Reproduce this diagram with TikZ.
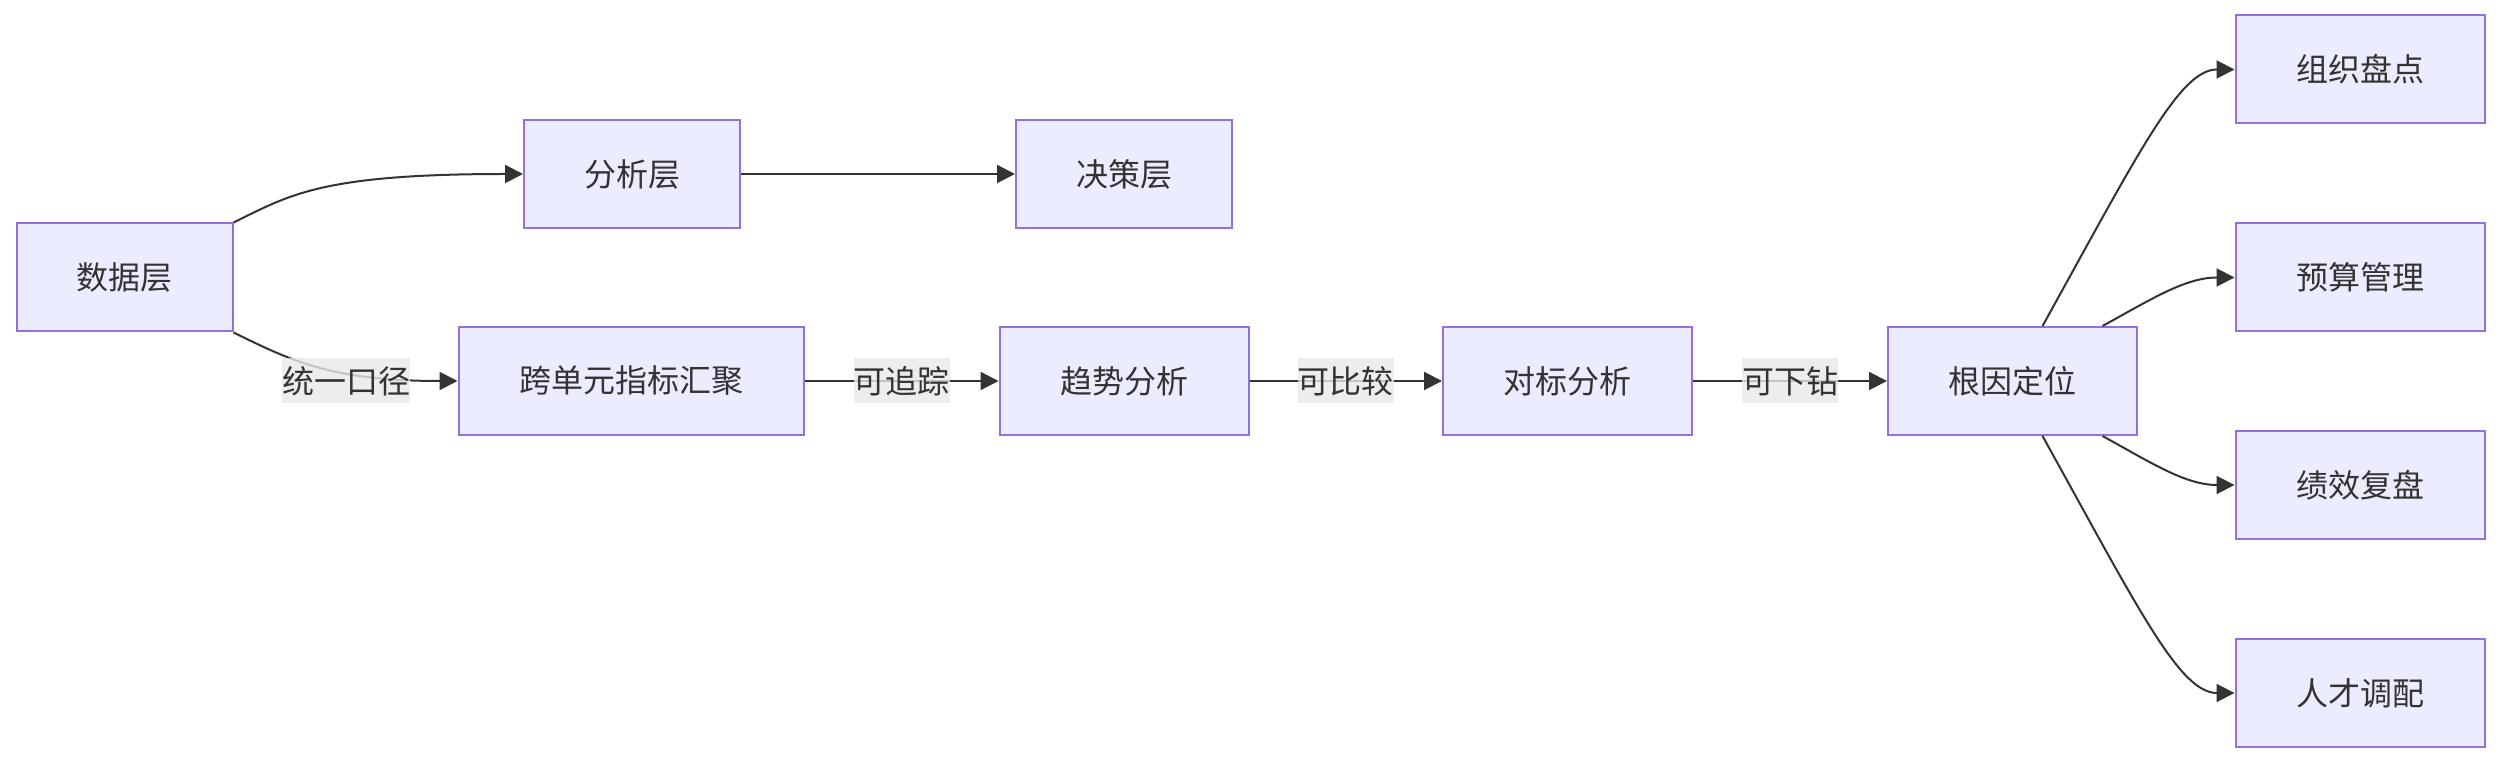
\documentclass[tikz,border=0pt]{standalone}
\usepackage{fontspec}
\setmainfont{Noto Sans CJK SC}
\usetikzlibrary{arrows.meta}
\definecolor{nodefill}{HTML}{ECECFF}
\definecolor{nodeborder}{HTML}{9370DB}
\definecolor{edgecol}{HTML}{333333}
\definecolor{labelbg}{HTML}{E8E8E8}
\begin{document}
\begin{tikzpicture}[x=0.5pt,y=-0.5pt,
  box/.style={draw=nodeborder, fill=nodefill, line width=1pt, minimum height=54pt,
    text=edgecol, font=\fontsize{16pt}{19pt}\selectfont, inner sep=0pt},
  box3/.style={box, minimum width=108pt},
  box4/.style={box, minimum width=124.5pt},
  box6/.style={box, minimum width=172.5pt},
  edge/.style={draw=edgecol, line width=1pt, -{Triangle[length=9pt,width=9pt]}},
  lbl/.style={fill=labelbg, fill opacity=0.8, text opacity=1, text=edgecol,
    font=\fontsize{16pt}{19pt}\selectfont, inner xsep=0pt, inner ysep=0pt, minimum height=22.5pt}]
\useasboundingbox (0,0) rectangle (2500,764);
\node[box3] (data) at (124.5,277.5) {数据层};
\node[box3] (ana) at (632,174) {分析层};
\node[box3] (dec) at (1124,174) {决策层};
\node[box6] (cross) at (631,381) {跨单元指标汇聚};
\node[box4] (trend) at (1124,381) {趋势分析};
\node[box4] (bench) at (1567.5,381) {对标分析};
\node[box4] (root) at (2012.5,381) {根因定位};
\node[box4] (r1) at (2360,69.5) {组织盘点};
\node[box4] (r2) at (2360,277.5) {预算管理};
\node[box4] (r3) at (2360,485) {绩效复盘};
\node[box4] (r4) at (2360,693) {人才调配};

\draw[edge] (data.north east) .. controls (290,195) and (320,174) .. (ana.west);
\draw[edge] (ana.east) -- (dec.west);
\draw[edge] (data.south east) .. controls (290,360) and (330,381) .. (cross.west);
\node[lbl] (l1) at (346,381) {统一口径};
\draw[edge] (cross.east) -- node[lbl] {可追踪} (trend.west);
\draw[edge] (trend.east) -- node[lbl] {可比较} (bench.west);
\draw[edge] (bench.east) -- node[lbl] {可下钻} (root.west);

\draw[edge] ([xshift=15pt]root.north) .. controls (2140,150) and (2180,69.5) .. (r1.west);
\draw[edge] ([xshift=45pt]root.north) .. controls (2150,300) and (2185,277.5) .. (r2.west);
\draw[edge] ([xshift=45pt]root.south) .. controls (2150,462) and (2185,485) .. (r3.west);
\draw[edge] ([xshift=15pt]root.south) .. controls (2140,612) and (2180,693) .. (r4.west);
\end{tikzpicture}
\end{document}
